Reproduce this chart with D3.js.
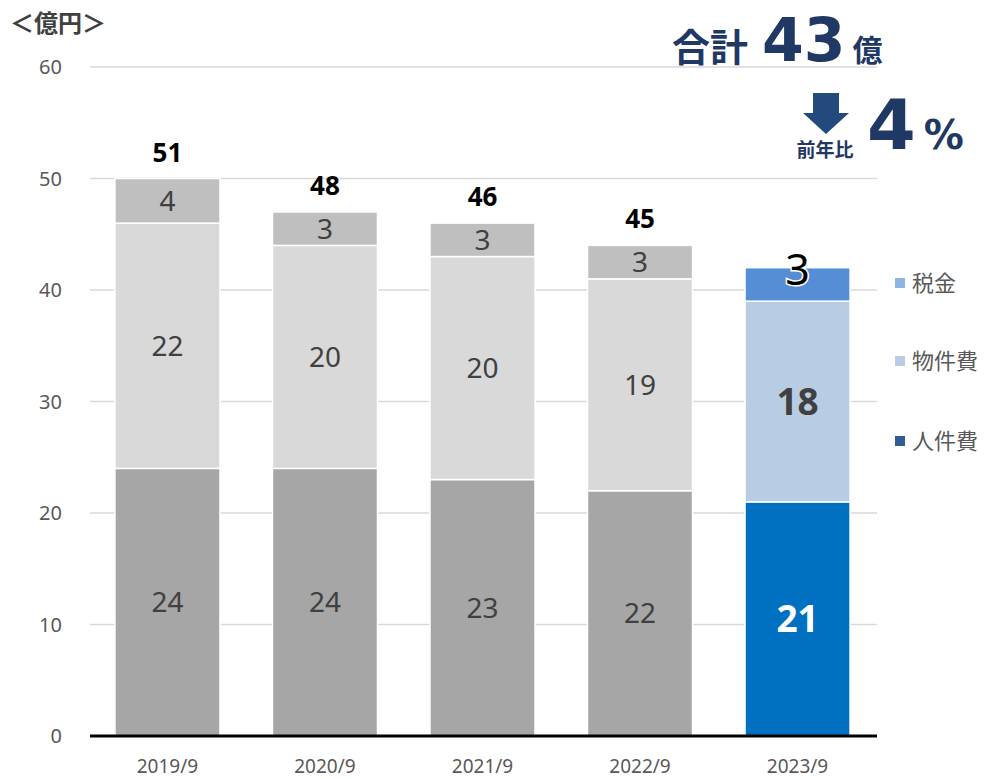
<!DOCTYPE html>
<html>
<head>
<meta charset="utf-8">
<script src="https://cdn.jsdelivr.net/npm/d3@7"></script>
<style>
  body { margin: 0; background: #fff; }
  text { font-family: "Noto Sans", "Noto Sans CJK JP", sans-serif; }
</style>
</head>
<body>
<div id="chart"></div>
<script>
// data
const years = ["2019/9", "2020/9", "2021/9", "2022/9", "2023/9"];
const staff = [24, 24, 23, 22, 21];     // 人件費
const goods = [22, 20, 20, 19, 18];     // 物件費
const tax = [4, 3, 3, 3, 3];            // 税金
const totals = [51, 48, 46, 45];
const yTicks = [0, 10, 20, 30, 40, 50, 60];
const legendNames = ["税金", "物件費", "人件費"];

const width = 985, height = 779;
const plotLeft = 90, plotRight = 877, plotTop = 67, plotBottom = 736;

const svg = d3.select("#chart").append("svg")
    .attr("width", width)
    .attr("height", height);

const x = d3.scaleBand().domain(years).range([plotLeft - 2, plotRight]).paddingInner(0.3333).paddingOuter(0.171);
const y = d3.scaleLinear().domain([0, 60]).range([plotBottom, plotTop]);

// grid
svg.append("g").selectAll("line")
    .data(yTicks.filter(d => d > 0))
    .join("line")
    .attr("x1", plotLeft).attr("x2", plotRight)
    .attr("y1", d => y(d)).attr("y2", d => y(d))
    .attr("stroke", "#d9d9d9").attr("stroke-width", 1.5);

// y labels
svg.append("g").selectAll("text")
    .data(yTicks)
    .join("text")
    .attr("x", 62).attr("y", d => y(d) + 7)
    .attr("text-anchor", "end")
    .attr("font-size", 20).attr("fill", "#595959")
    .text(d => d);

// stacks
const rows = years.map((yr, i) => ({year: yr, staff: staff[i], goods: goods[i], tax: tax[i], last: i === years.length - 1}));
const stack = d3.stack().keys(["staff", "goods", "tax"])(rows);
const grayCol = {staff: "#a6a6a6", goods: "#d9d9d9", tax: "#bfbfbf"};
const blueCol = {staff: "#0070c0", goods: "#b8cce4", tax: "#558ed5"};

stack.forEach(layer => {
  const g = svg.append("g");
  g.selectAll("rect")
    .data(layer)
    .join("rect")
    .attr("x", d => x(d.data.year))
    .attr("width", x.bandwidth())
    .attr("y", d => y(d[1]))
    .attr("height", d => y(d[0]) - y(d[1]))
    .attr("fill", d => d.data.last ? blueCol[layer.key] : grayCol[layer.key])
    .attr("stroke", "#fff").attr("stroke-width", 1.5);

  g.selectAll("text")
    .data(layer)
    .join("text")
    .attr("x", d => x(d.data.year) + x.bandwidth() / 2)
    .attr("y", d => (y(d[0]) + y(d[1])) / 2 - (d.data.last && layer.key === "tax" ? 15 : 0))
    .attr("dy", "0.36em")
    .attr("text-anchor", "middle")
    .attr("font-size", d => d.data.last ? (layer.key === "tax" ? 43 : 37) : 28)
    .attr("font-weight", d => d.data.last && layer.key !== "tax" ? "bold" : "normal")
    .attr("fill", d => {
      if (!d.data.last) return "#404040";
      if (layer.key === "staff") return "#fff";
      if (layer.key === "goods") return "#404040";
      return "#000";
    })
    .attr("stroke", d => d.data.last && layer.key === "tax" ? "#fff" : null)
    .attr("stroke-width", 3).attr("paint-order", "stroke")
    .text(d => d.data[layer.key]);
});

// totals
svg.append("g").selectAll("text")
    .data(totals)
    .join("text")
    .attr("x", (d, i) => x(years[i]) + x.bandwidth() / 2)
    .attr("y", (d, i) => y(staff[i] + goods[i] + tax[i]) - 17)
    .attr("text-anchor", "middle")
    .attr("font-size", 26).attr("font-weight", "bold").attr("fill", "#000")
    .text(d => d);

// x axis
svg.append("line")
    .attr("x1", plotLeft).attr("x2", plotRight)
    .attr("y1", plotBottom).attr("y2", plotBottom)
    .attr("stroke", "#000").attr("stroke-width", 3);
svg.append("g").selectAll("text")
    .data(years)
    .join("text")
    .attr("x", d => x(d) + x.bandwidth() / 2)
    .attr("y", 773)
    .attr("text-anchor", "middle")
    .attr("font-size", 19).attr("fill", "#595959")
    .text(d => d);

// unit
svg.append("text")
    .attr("x", 10).attr("y", 32)
    .attr("font-size", 24).attr("font-weight", "bold").attr("fill", "#404040")
    .text("＜億円＞");

// legend
const legendCol = ["#8db4e2", "#b8cce4", "#2f5d96"];
const lg = svg.append("g").selectAll("g")
    .data(legendNames)
    .join("g")
    .attr("transform", (d, i) => "translate(895," + [283, 361, 441][i] + ")");
lg.append("rect").attr("x", 0).attr("y", -5).attr("width", 10).attr("height", 10)
    .attr("fill", (d, i) => legendCol[i]);
lg.append("text").attr("x", 17).attr("y", 8)
    .attr("font-size", 22).attr("fill", "#595959")
    .text(d => d);

// headline
const navy = "#1f3864";
const head = svg.append("text").attr("x", 672).attr("y", 61).attr("fill", navy).attr("font-weight", "bold");
head.append("tspan").attr("font-size", 38).text("合計");
head.append("tspan").attr("font-size", 60).attr("dx", 14)
    .style("font-family", "'DejaVu Sans', sans-serif").text("43");
head.append("tspan").attr("font-size", 30).attr("dx", 7).text("億");

svg.append("path")
    .attr("d", "M813,93 L839,93 L839,113 L849,113 L826,134 L803,113 L813,113 Z")
    .attr("fill", "#234a7c");
svg.append("text").attr("x", 825).attr("y", 157).attr("text-anchor", "middle")
    .attr("font-size", 19).attr("font-weight", "bold").attr("fill", navy)
    .text("前年比");
const pct = svg.append("text").attr("x", 867).attr("y", 149).attr("fill", navy).attr("font-weight", "bold")
    .style("font-family", "'DejaVu Sans', sans-serif");
pct.append("tspan").attr("font-size", 70).text("4");
pct.append("tspan").attr("font-size", 40).attr("dx", 8).text("%");
</script>
</body>
</html>
